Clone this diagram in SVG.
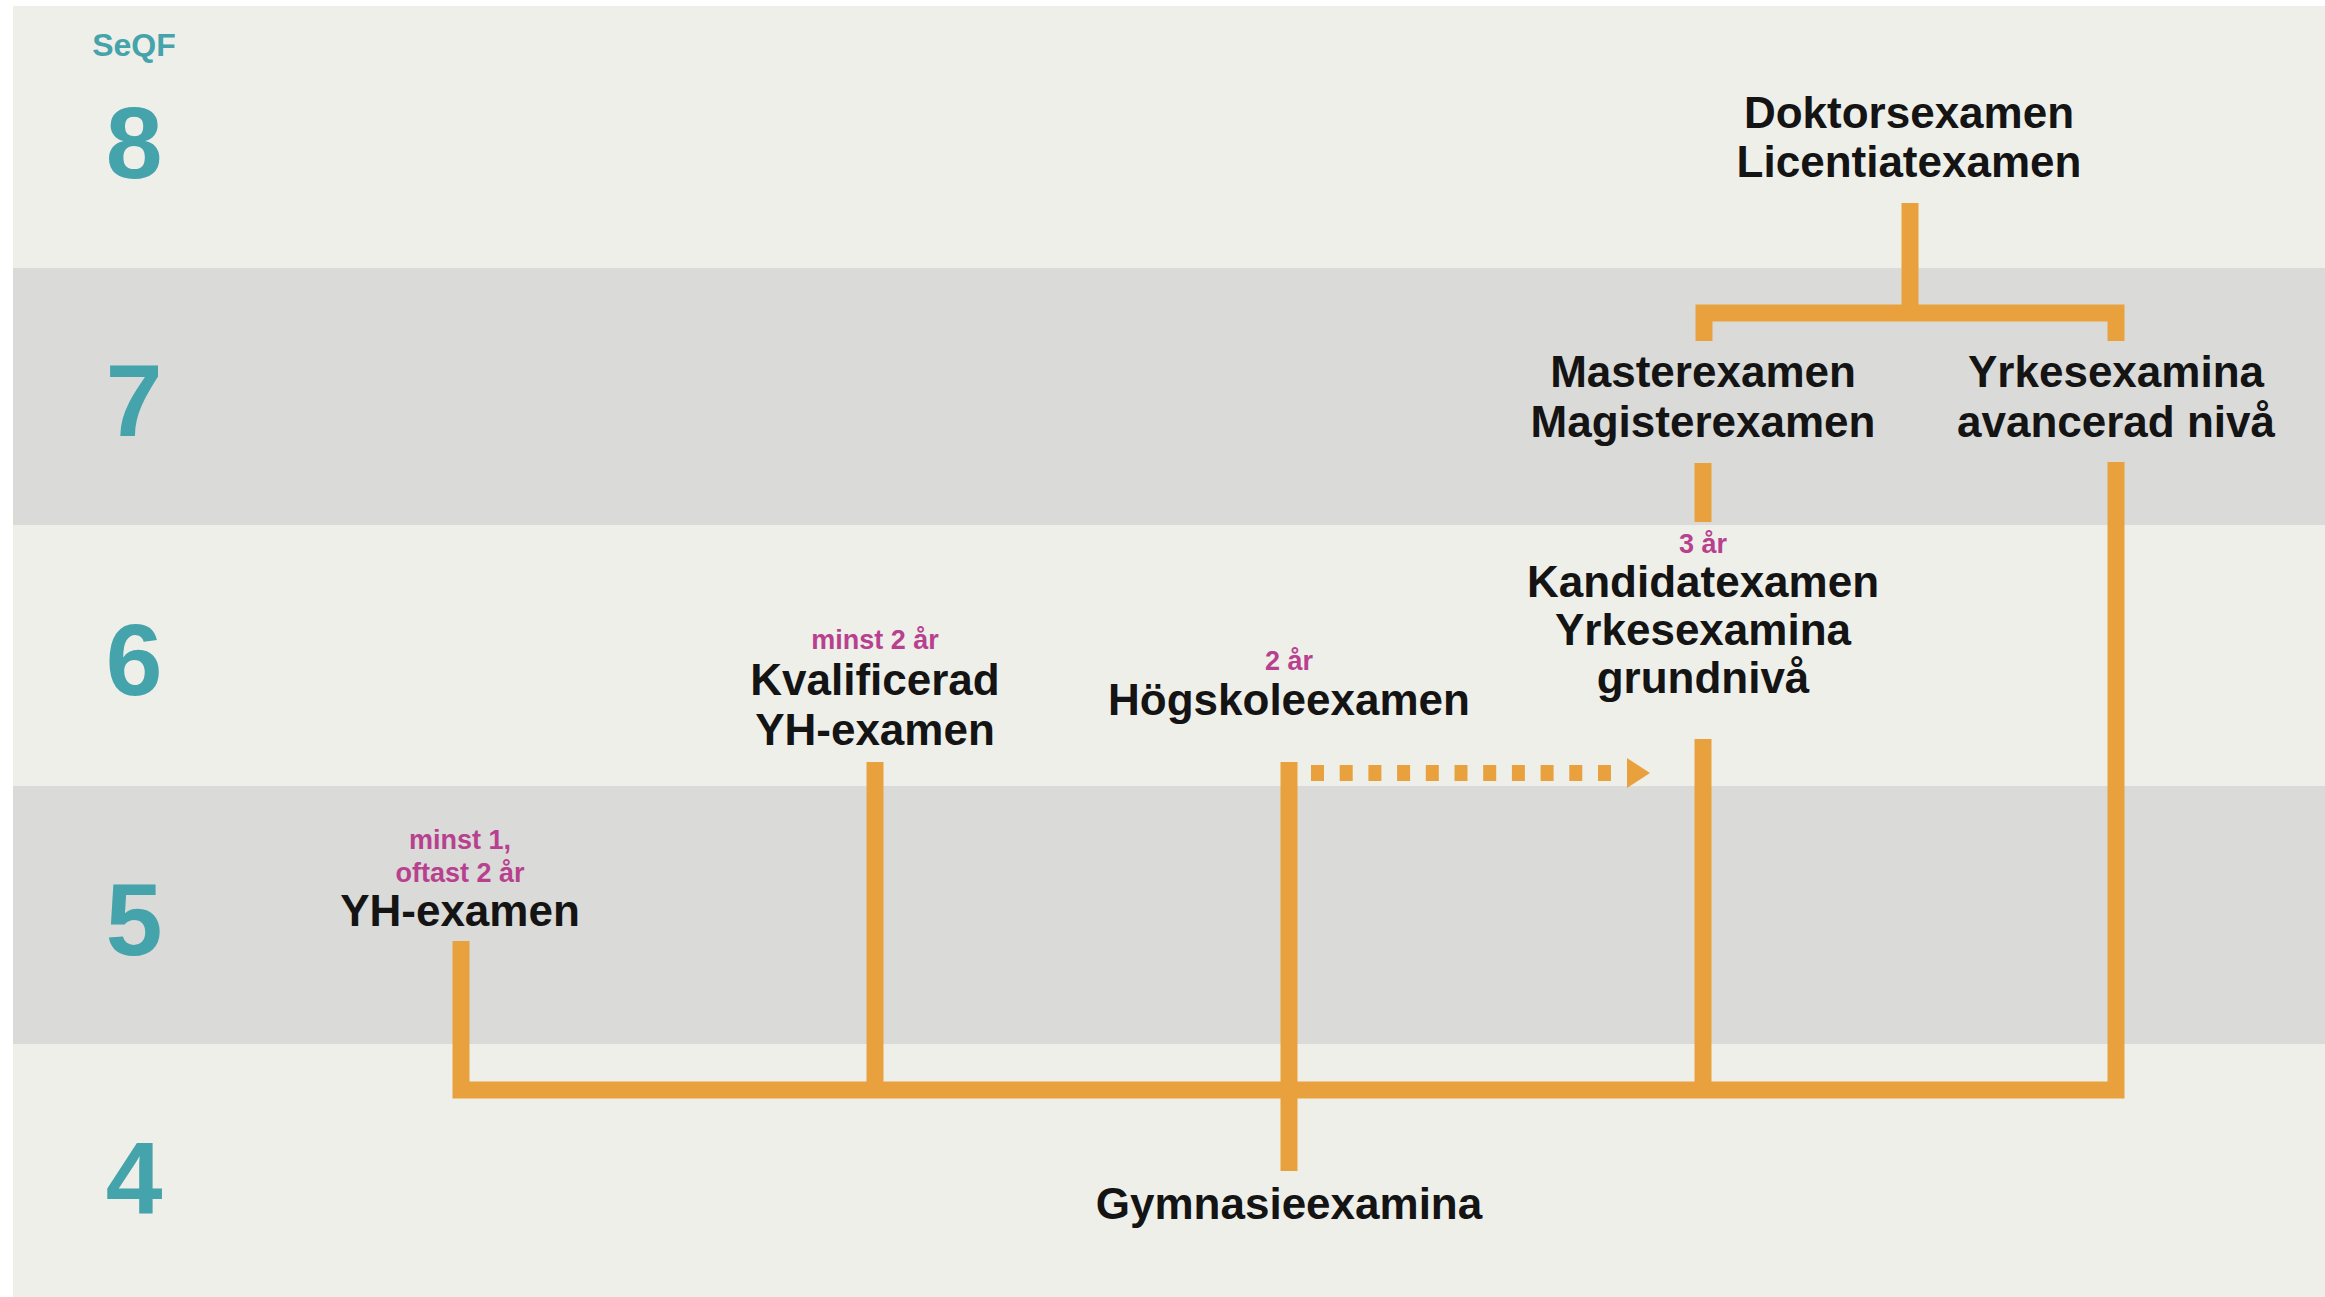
<svg xmlns="http://www.w3.org/2000/svg" width="2325" height="1297" viewBox="0 0 2325 1297">
  <style>
    .lbl { font-family: "Liberation Sans", Arial, sans-serif; font-weight: bold; font-size: 44px; fill: #141414; text-anchor: middle; }
    .dur { font-family: "Liberation Sans", Arial, sans-serif; font-weight: bold; font-size: 27px; fill: #b8418f; text-anchor: middle; }
    .lvl { font-family: "Liberation Sans", Arial, sans-serif; font-weight: bold; font-size: 102px; fill: #45a3ab; text-anchor: middle; }
    .seqf { font-family: "Liberation Sans", Arial, sans-serif; font-weight: bold; font-size: 32px; fill: #45a3ab; text-anchor: middle; }
    .con { fill: none; stroke: #e9a13d; stroke-width: 17; stroke-linecap: butt; stroke-linejoin: miter; }
    .dot { fill: none; stroke: #e9a13d; stroke-width: 16; stroke-dasharray: 13 15.7; }
  </style>
  <rect x="0" y="0" width="2325" height="1297" fill="#ffffff"/>
  <g id="bands">
    <rect x="13" y="6" width="2312" height="1291" fill="#efefea"/>
    <rect x="13" y="268" width="2312" height="257" fill="#dadad8"/>
    <rect x="13" y="786" width="2312" height="258" fill="#dadad8"/>
  </g>
  <g id="levels">
    <text class="seqf" x="134" y="56">SeQF</text>
    <text class="lvl" x="134" y="178">8</text>
    <text class="lvl" x="134" y="436">7</text>
    <text class="lvl" x="134" y="695">6</text>
    <text class="lvl" x="134" y="955">5</text>
    <text class="lvl" x="134" y="1213">4</text>
  </g>
  <g id="connectors">
    <path class="con" d="M1910 203 V313"/>
    <path class="con" d="M1704 341 V313 H2116 V341"/>
    <path class="con" d="M1703 463 V522"/>
    <path class="con" d="M461 941 V1090 H2116 V462"/>
    <path class="con" d="M875 762 V1090"/>
    <path class="con" d="M1289 762 V1171"/>
    <path class="con" d="M1703 739 V1090"/>
    <path class="dot" d="M1311 773 H1620"/>
    <polygon points="1627,758 1650,773 1627,788" fill="#e9a13d"/>
  </g>
  <g id="node-doktor">
    <text class="lbl" x="1909" y="128">Doktorsexamen</text>
    <text class="lbl" x="1909" y="177">Licentiatexamen</text>
  </g>
  <g id="node-master">
    <text class="lbl" x="1703" y="387">Masterexamen</text>
    <text class="lbl" x="1703" y="437">Magisterexamen</text>
  </g>
  <g id="node-yrkes-avancerad">
    <text class="lbl" x="2116" y="387">Yrkesexamina</text>
    <text class="lbl" x="2116" y="437">avancerad nivå</text>
  </g>
  <g id="node-kandidat">
    <text class="dur" x="1703" y="553">3 år</text>
    <text class="lbl" x="1703" y="597">Kandidatexamen</text>
    <text class="lbl" x="1703" y="645">Yrkesexamina</text>
    <text class="lbl" x="1703" y="693">grundnivå</text>
  </g>
  <g id="node-kvalificerad">
    <text class="dur" x="875" y="649">minst 2 år</text>
    <text class="lbl" x="875" y="695">Kvalificerad</text>
    <text class="lbl" x="875" y="745">YH-examen</text>
  </g>
  <g id="node-hogskole">
    <text class="dur" x="1289" y="670">2 år</text>
    <text class="lbl" x="1289" y="715">Högskoleexamen</text>
  </g>
  <g id="node-yh">
    <text class="dur" x="460" y="849">minst 1,</text>
    <text class="dur" x="460" y="882">oftast 2 år</text>
    <text class="lbl" x="460" y="926">YH-examen</text>
  </g>
  <g id="node-gymnasie">
    <text class="lbl" x="1289" y="1219">Gymnasieexamina</text>
  </g>
</svg>
